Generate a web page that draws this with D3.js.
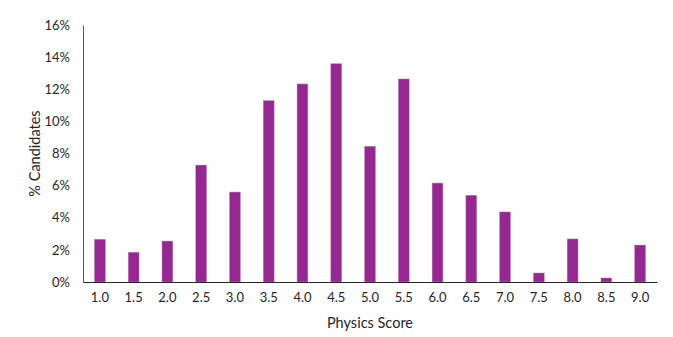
<!DOCTYPE html>
<html>
<head>
<meta charset="utf-8">
<script src="https://cdn.jsdelivr.net/npm/d3@7"></script>
<style>
  body { margin: 0; background: #fff; }
  text { font-family: Lato, "Open Sans", sans-serif; fill: #262626; }
</style>
</head>
<body>
<div id="container"></div>
<script>
const scores = ["1.0","1.5","2.0","2.5","3.0","3.5","4.0","4.5","5.0","5.5","6.0","6.5","7.0","7.5","8.0","8.5","9.0"]
const pctCandidates = [2.66, 1.85, 2.55, 7.28, 5.6, 11.29, 12.33, 13.59, 8.45, 12.64, 6.16, 5.4, 4.36, 0.56, 2.68, 0.25, 2.3]
const yTicks = [0, 2, 4, 6, 8, 10, 12, 14, 16]

const w = 673
const h = 337
const plotLeft = 83, plotRight = 657, plotTop = 25, plotBottom = 282

const xScale = d3.scaleBand()
    .domain(scores)
    .range([plotLeft, plotRight])
    .paddingInner(0.68)
    .paddingOuter(0.34)
const yScale = d3.scaleLinear()
    .domain([0, 16])
    .range([plotBottom, plotTop])

const svg = d3.select("#container")
    .append("svg")
    .attr("width", w)
    .attr("height", h)

// y axis
const yAxis = d3.axisLeft(yScale).tickValues(yTicks).tickFormat(d => d + "%").tickSize(0).tickPadding(13)
const gy = svg.append("g")
    .attr("transform", `translate(${plotLeft}, 0)`)
    .call(yAxis)
gy.select(".domain").attr("stroke", "#595959")
gy.selectAll("text").style("font-size", "13px")

svg.selectAll("rect.bar")
    .data(pctCandidates)
    .enter()
    .append("rect")
    .attr("class", "bar")
    .attr("x", (d, i) => xScale(scores[i]))
    .attr("y", d => yScale(d))
    .attr("width", xScale.bandwidth())
    .attr("height", d => plotBottom - yScale(d))
    .attr("fill", "#952790")
    .attr("stroke", "#c27fbf")
    .attr("stroke-width", 0.5)

// x axis
const xAxis = d3.axisBottom(xScale).tickSize(0).tickPadding(11)
const gx = svg.append("g")
    .attr("transform", `translate(0, ${plotBottom})`)
    .call(xAxis)
gx.select(".domain").attr("stroke", "#262626")
gx.selectAll("text").style("font-size", "13px")

svg.append("text")
    .attr("x", (plotLeft + plotRight) / 2)
    .attr("y", 328)
    .attr("text-anchor", "middle")
    .style("font-size", "14.5px")
    .text("Physics Score")

svg.append("text")
    .attr("transform", `translate(40, ${(plotTop + plotBottom) / 2}) rotate(-90)`)
    .attr("text-anchor", "middle")
    .style("font-size", "14.5px")
    .text("% Candidates")
</script>
</body>
</html>
